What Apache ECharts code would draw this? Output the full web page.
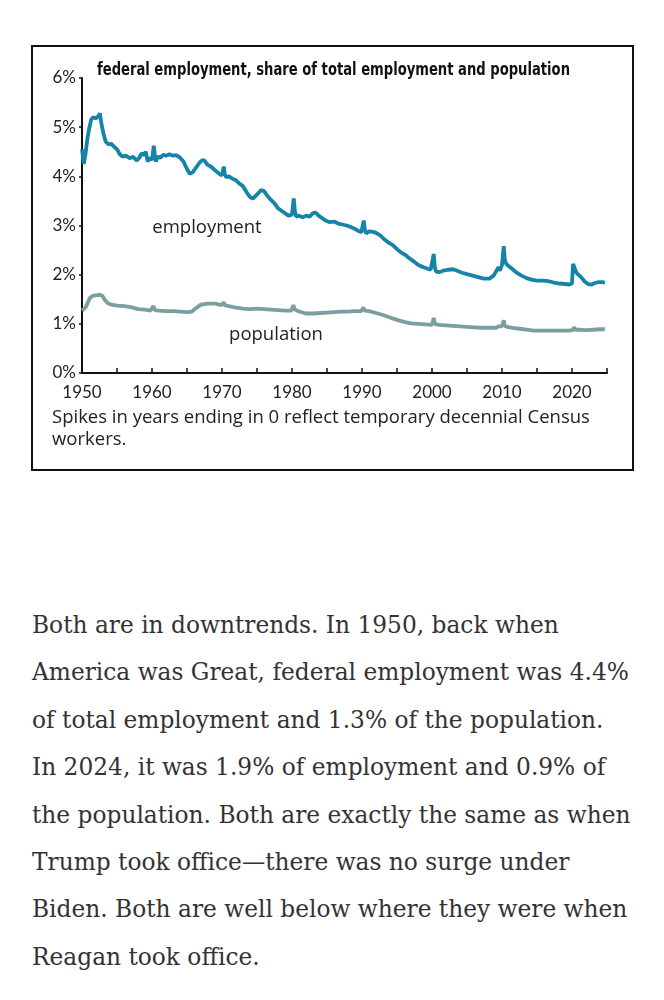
<!DOCTYPE html>
<html>
<head>
<meta charset="utf-8">
<script src="https://cdn.jsdelivr.net/npm/echarts@6/dist/echarts.min.js"></script>
<style>
  html, body { margin: 0; padding: 0; background: #fff; }
  #chart { position: absolute; left: 0; top: 0; width: 664px; height: 490px; }
  #para { position: absolute; left: 32px; top: 601px; width: 630px;
          font-family: "DejaVu Serif", serif; font-size: 23.3px; line-height: 47.4px;
          color: #333; white-space: nowrap; }
</style>
</head>
<body>
<div id="chart"></div>
<div id="para">Both are in downtrends. In 1950, back when<br>America was Great, federal employment was 4.4%<br>of total employment and 1.3% of the population.<br>In 2024, it was 1.9% of employment and 0.9% of<br>the population. Both are exactly the same as when<br>Trump took office—there was no surge under<br>Biden. Both are well below where they were when<br>Reagan took office.</div>
<script>
// ---- data ----
const titleText = "federal employment, share of total employment and population";
const noteLines = ["Spikes in years ending in 0 reflect temporary decennial Census", "workers."];
const yTicks = [0, 1, 2, 3, 4, 5, 6];
const xLabelYears = [1950, 1960, 1970, 1980, 1990, 2000, 2010, 2020];

const empYears = [1950.0,1950.25,1950.5,1950.75,1951.0,1951.3,1951.6,1952.0,1952.3,1952.55,1952.8,1953.1,1953.4,1953.8,1954.2,1954.6,1955.0,1955.4,1955.8,1956.3,1956.8,1957.3,1957.8,1958.2,1958.5,1958.8,1959.1,1959.4,1959.7,1960.0,1960.25,1960.4,1960.55,1960.8,1961.2,1961.6,1962.0,1962.5,1963.0,1963.5,1964.0,1964.5,1965.0,1965.4,1965.8,1966.3,1966.8,1967.2,1967.5,1967.9,1968.4,1968.8,1969.2,1969.6,1970.0,1970.25,1970.4,1970.6,1971.0,1971.5,1972.0,1972.5,1973.0,1973.5,1974.0,1974.4,1974.8,1975.2,1975.6,1976.0,1976.5,1977.0,1977.5,1978.0,1978.5,1979.0,1979.5,1980.0,1980.25,1980.4,1980.6,1981.0,1981.5,1982.0,1982.5,1983.0,1983.4,1983.8,1984.3,1984.8,1985.3,1986.0,1986.6,1987.2,1987.8,1988.4,1989.0,1989.6,1989.9,1990.25,1990.4,1990.6,1991.0,1991.6,1992.0,1992.6,1993.2,1993.8,1994.4,1995.0,1995.6,1996.2,1996.8,1997.4,1998.0,1998.6,1999.2,1999.8,2000.0,2000.25,2000.4,2000.6,2001.0,2001.6,2002.3,2003.0,2003.6,2004.3,2005.0,2005.8,2006.6,2007.4,2008.2,2008.8,2009.3,2009.5,2009.7,2010.0,2010.25,2010.4,2010.6,2011.0,2011.6,2012.2,2012.8,2013.5,2014.2,2015.0,2015.8,2016.6,2017.4,2018.2,2019.0,2019.6,2020.0,2020.15,2020.4,2020.6,2020.9,2021.3,2021.8,2022.3,2022.8,2023.3,2023.8,2024.3,2024.7];
const empValues = [4.55,4.25,4.45,4.75,4.95,5.15,5.2,5.18,5.22,5.28,5.05,4.85,4.7,4.65,4.66,4.6,4.55,4.45,4.4,4.42,4.37,4.4,4.32,4.38,4.47,4.43,4.5,4.3,4.38,4.33,4.62,4.45,4.3,4.4,4.38,4.44,4.42,4.45,4.42,4.43,4.38,4.3,4.15,4.05,4.08,4.18,4.28,4.33,4.32,4.24,4.2,4.15,4.1,4.05,4.02,4.2,4.05,3.98,4.0,3.95,3.92,3.85,3.8,3.68,3.58,3.55,3.6,3.66,3.72,3.7,3.6,3.52,3.45,3.35,3.3,3.25,3.2,3.22,3.55,3.3,3.18,3.2,3.17,3.2,3.18,3.25,3.26,3.2,3.15,3.1,3.07,3.08,3.04,3.02,3.0,2.97,2.93,2.88,2.86,3.1,2.92,2.84,2.88,2.87,2.85,2.8,2.72,2.65,2.6,2.52,2.45,2.4,2.33,2.27,2.2,2.16,2.13,2.1,2.1,2.42,2.15,2.06,2.05,2.08,2.1,2.11,2.08,2.04,2.01,1.98,1.95,1.92,1.92,1.98,2.1,2.15,2.08,2.2,2.58,2.3,2.22,2.17,2.1,2.03,1.98,1.93,1.9,1.88,1.88,1.87,1.84,1.82,1.81,1.8,1.82,2.22,2.2,2.05,2.0,1.95,1.86,1.81,1.8,1.83,1.85,1.85,1.84];

const popYears = [1950.0,1950.25,1950.5,1950.8,1951.1,1951.5,1952.0,1952.5,1952.9,1953.3,1953.7,1954.2,1955.0,1956.0,1957.0,1958.0,1959.0,1959.8,1960.2,1960.4,1961.0,1962.0,1963.0,1964.0,1965.0,1965.7,1966.3,1967.0,1968.0,1969.0,1970.0,1970.25,1970.4,1971.0,1972.0,1973.0,1974.0,1975.0,1976.0,1977.0,1978.0,1979.0,1979.9,1980.2,1980.4,1981.0,1982.0,1983.0,1984.0,1985.0,1986.0,1987.0,1988.0,1989.0,1989.9,1990.2,1990.4,1991.0,1992.0,1993.0,1994.0,1995.0,1996.0,1997.0,1998.0,1999.0,2000.0,2000.25,2000.4,2001.0,2002.0,2003.0,2004.0,2005.0,2006.0,2007.0,2008.0,2009.2,2009.5,2009.7,2010.0,2010.25,2010.4,2010.7,2011.5,2012.5,2013.5,2014.5,2015.5,2016.5,2017.5,2018.5,2019.5,2020.1,2020.3,2020.5,2021.0,2022.0,2023.0,2024.0,2024.7];
const popValues = [1.27,1.24,1.33,1.42,1.52,1.57,1.58,1.59,1.57,1.48,1.42,1.39,1.37,1.36,1.34,1.3,1.29,1.27,1.36,1.28,1.27,1.26,1.26,1.25,1.24,1.25,1.32,1.39,1.41,1.41,1.38,1.44,1.38,1.36,1.33,1.31,1.3,1.31,1.3,1.29,1.28,1.27,1.27,1.38,1.29,1.25,1.21,1.21,1.22,1.23,1.24,1.25,1.25,1.26,1.26,1.33,1.27,1.26,1.22,1.18,1.13,1.08,1.04,1.01,1.0,0.99,0.98,1.12,1.0,0.98,0.97,0.96,0.95,0.94,0.93,0.92,0.92,0.92,0.95,0.93,0.95,1.07,0.96,0.94,0.92,0.9,0.88,0.86,0.86,0.86,0.86,0.86,0.86,0.87,0.93,0.88,0.88,0.87,0.88,0.89,0.89];

const empData = empYears.map((y, i) => [y, empValues[i]]);
const popData = popYears.map((y, i) => [y, popValues[i]]);

const chart = echarts.init(document.getElementById('chart'), null, { renderer: 'canvas' });
const labelFont = 'Lato, "Open Sans", sans-serif';
const textFont = '"Open Sans", Lato, sans-serif';
chart.setOption({
  animation: false,
  backgroundColor: '#fff',
  grid: { left: 82, right: 57, top: 78, bottom: 117, containLabel: false },
  xAxis: {
    type: 'value', min: 1950, max: 2025, interval: 5,
    axisLine: { show: true, lineStyle: { color: '#111', width: 2 } },
    axisTick: { show: true, inside: true, length: 5, lineStyle: { color: '#111', width: 1.5 } },
    splitLine: { show: false },
    axisLabel: {
      color: '#222', fontFamily: labelFont, fontSize: 17, margin: 11,
      formatter: v => xLabelYears.includes(v) ? String(v) : ''
    }
  },
  yAxis: {
    type: 'value', min: yTicks[0], max: yTicks[yTicks.length - 1], interval: 1,
    axisLine: { show: true, lineStyle: { color: '#111', width: 2 } },
    axisTick: { show: true, inside: false, length: 3, lineStyle: { color: '#111', width: 1.5 } },
    splitLine: { show: false },
    axisLabel: { color: '#222', fontFamily: labelFont, fontSize: 17, margin: 6, formatter: '{value}%' }
  },
  series: [
    { name: 'employment', type: 'line', data: empData, showSymbol: false, smooth: false,
      lineStyle: { color: '#1684a8', width: 3.8 }, z: 3 },
    { name: 'population', type: 'line', data: popData, showSymbol: false, smooth: false,
      lineStyle: { color: '#7b9f9f', width: 3.8 }, z: 2 }
  ],
  graphic: [
    { type: 'rect', shape: { x: 32, y: 46, width: 601, height: 424 },
      style: { fill: 'none', stroke: '#111', lineWidth: 2 }, z: 0 },
    { type: 'text', x: 97, y: 70, scaleX: 0.73, style: { text: titleText, fill: '#111',
      font: 'bold 18px "DejaVu Sans", sans-serif', verticalAlign: 'middle' } },
    { type: 'text', x: 207, y: 228, style: { text: 'employment', fill: '#222',
      font: '18.5px ' + textFont, align: 'center', verticalAlign: 'middle' } },
    { type: 'text', x: 276, y: 335, style: { text: 'population', fill: '#222',
      font: '18.5px ' + textFont, align: 'center', verticalAlign: 'middle' } },
    { type: 'text', x: 52, y: 418, style: { text: noteLines[0], fill: '#222',
      font: '18.5px ' + textFont, verticalAlign: 'middle' } },
    { type: 'text', x: 52, y: 440, style: { text: noteLines[1], fill: '#222',
      font: '18.5px ' + textFont, verticalAlign: 'middle' } }
  ]
});
</script>
</body>
</html>
